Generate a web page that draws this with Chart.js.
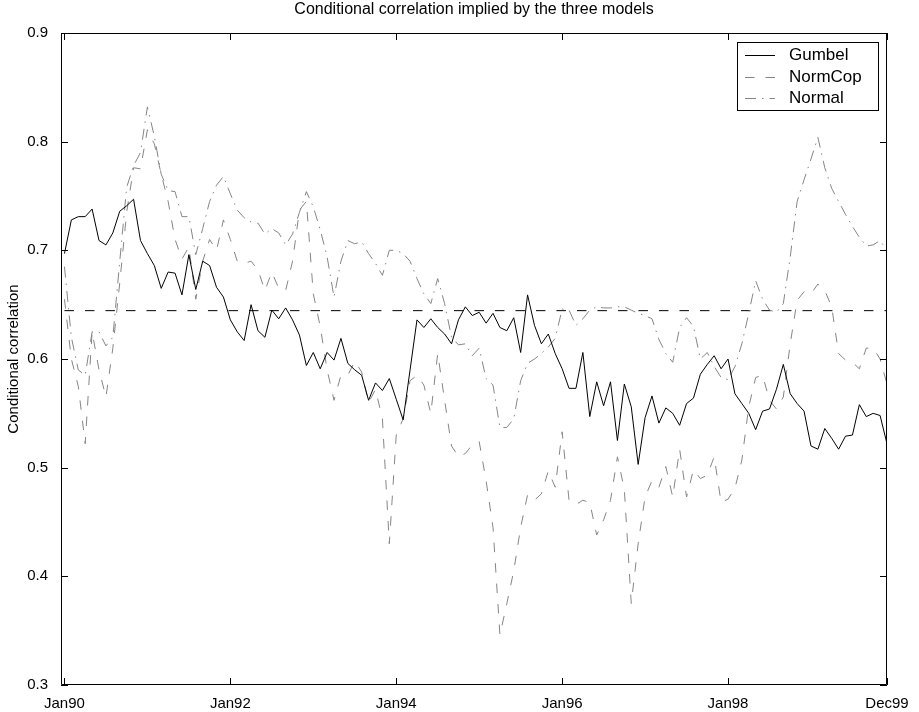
<!DOCTYPE html>
<html>
<head>
<meta charset="utf-8">
<title>Conditional correlation</title>
<script src="https://cdn.jsdelivr.net/npm/chart.js@4.4.1/dist/chart.umd.min.js"></script>
<style>
  html, body { margin: 0; padding: 0; background: #fff; }
  #wrap { width: 919px; height: 712px; }
</style>
</head>
<body>
<div id="wrap"><canvas id="chart" width="919" height="712"></canvas></div>
<script>
/* Monthly conditional correlation, Jan90 .. Dec99 (index 0 = Jan90) */
const GUMBEL = [
  0.697, 0.728, 0.731, 0.731, 0.738, 0.709, 0.705, 0.716, 0.736, 0.741,
  0.747, 0.709, 0.697, 0.686, 0.665, 0.680, 0.679, 0.659, 0.696, 0.664,
  0.690, 0.686, 0.666, 0.657, 0.636, 0.625, 0.617, 0.650, 0.626, 0.620,
  0.645, 0.637, 0.647, 0.636, 0.622, 0.594, 0.606, 0.591, 0.606, 0.599,
  0.619, 0.596, 0.590, 0.585, 0.562, 0.578, 0.571, 0.582, 0.563, 0.544,
  0.590, 0.636, 0.629, 0.637, 0.629, 0.623, 0.614, 0.636, 0.648, 0.640,
  0.643, 0.633, 0.642, 0.629, 0.626, 0.638, 0.606, 0.659, 0.631, 0.614,
  0.623, 0.605, 0.591, 0.573, 0.573, 0.606, 0.547, 0.579, 0.557, 0.579,
  0.525, 0.577, 0.556, 0.503, 0.546, 0.566, 0.541, 0.555, 0.550, 0.539,
  0.559, 0.564, 0.586, 0.595, 0.603, 0.591, 0.600, 0.568, 0.559, 0.550,
  0.535, 0.552, 0.554, 0.572, 0.595, 0.568, 0.559, 0.552, 0.520, 0.517,
  0.536, 0.527, 0.517, 0.529, 0.530, 0.558, 0.547, 0.550, 0.548, 0.522
];
const NORMCOP = [
  0.655, 0.600, 0.575, 0.522, 0.625, 0.590, 0.565, 0.610, 0.670, 0.735,
  0.776, 0.775, 0.811, 0.798, 0.770, 0.745, 0.710, 0.692, 0.703, 0.655,
  0.690, 0.710, 0.700, 0.728, 0.710, 0.690, 0.688, 0.690, 0.682, 0.663,
  0.680, 0.665, 0.663, 0.690, 0.737, 0.745, 0.660, 0.630, 0.590, 0.562,
  0.585, 0.585, 0.598, 0.588, 0.560, 0.572, 0.545, 0.430, 0.530, 0.545,
  0.580, 0.585, 0.576, 0.550, 0.605, 0.562, 0.520, 0.510, 0.513, 0.521,
  0.524, 0.488, 0.445, 0.346, 0.375, 0.405, 0.445, 0.475, 0.470, 0.476,
  0.497, 0.482, 0.533, 0.470, 0.466, 0.470, 0.468, 0.438, 0.452, 0.470,
  0.510, 0.480, 0.375, 0.430, 0.473, 0.488, 0.482, 0.501, 0.473, 0.517,
  0.473, 0.498, 0.490, 0.493, 0.510, 0.468, 0.471, 0.481, 0.507, 0.556,
  0.583, 0.585, 0.562, 0.554, 0.565, 0.614, 0.654, 0.662, 0.660, 0.669,
  0.663, 0.648, 0.605, 0.599, 0.597, 0.591, 0.610, 0.610, 0.600, 0.577
];
const NORMAL = [
  0.685, 0.620, 0.590, 0.585, 0.625, 0.625, 0.612, 0.620, 0.690, 0.758,
  0.778, 0.790, 0.832, 0.805, 0.770, 0.755, 0.754, 0.731, 0.731, 0.696,
  0.720, 0.745, 0.760, 0.768, 0.752, 0.737, 0.730, 0.726, 0.725, 0.715,
  0.720, 0.716, 0.705, 0.715, 0.735, 0.754, 0.740, 0.719, 0.694, 0.657,
  0.690, 0.709, 0.706, 0.708, 0.697, 0.688, 0.677, 0.700, 0.700, 0.697,
  0.690, 0.674, 0.660, 0.651, 0.674, 0.651, 0.620, 0.613, 0.614, 0.603,
  0.610, 0.582, 0.576, 0.537, 0.537, 0.545, 0.580, 0.596, 0.600, 0.605,
  0.611, 0.619, 0.646, 0.645, 0.631, 0.637, 0.645, 0.648, 0.647, 0.647,
  0.648, 0.648, 0.645, 0.642, 0.640, 0.637, 0.618, 0.605, 0.597, 0.629,
  0.638, 0.630, 0.600, 0.606, 0.593, 0.583, 0.581, 0.593, 0.614, 0.642,
  0.672, 0.655, 0.645, 0.643, 0.651, 0.694, 0.745, 0.765, 0.784, 0.804,
  0.776, 0.757, 0.745, 0.733, 0.722, 0.712, 0.704, 0.705, 0.709, 0.700
];
/* unconditional level drawn as a flat reference line */
const MEAN_LEVEL = 0.6445;

const TICK_MONTHS = [0, 24, 48, 72, 96, 119];
const TICK_LABELS = ["Jan90", "Jan92", "Jan94", "Jan96", "Jan98", "Dec99"];
const Y_MIN = 0.3, Y_MAX = 0.9, Y_STEP = 0.1;

const FONT = '"Liberation Sans", Arial, Helvetica, sans-serif';
const GREY = "#858585";
const DASH = [9.5, 11];
const DASH_DOT = [11, 6, 1.5, 6];

const toPoints = arr => arr.map((v, i) => ({ x: i, y: v }));

/* box, inward ticks on all four sides, title and legend */
const framePlugin = {
  id: "frame",
  afterDatasetsDraw(chart) {
    const { ctx, chartArea: a, scales } = chart;
    const len = 7;
    ctx.save();
    ctx.strokeStyle = "#000";
    ctx.lineWidth = 1;
    ctx.beginPath();
    ctx.rect(a.left + 0.5, a.top + 0.5, a.right - a.left - 1, a.bottom - a.top - 1);
    scales.x.ticks.forEach(t => {
      const px = Math.round(scales.x.getPixelForValue(t.value)) + 0.5;
      ctx.moveTo(px, a.bottom); ctx.lineTo(px, a.bottom - len);
      ctx.moveTo(px, a.top); ctx.lineTo(px, a.top + len);
    });
    scales.y.ticks.forEach(t => {
      const py = Math.round(scales.y.getPixelForValue(t.value)) + 0.5;
      ctx.moveTo(a.left, py); ctx.lineTo(a.left + len, py);
      ctx.moveTo(a.right, py); ctx.lineTo(a.right - len, py);
    });
    ctx.stroke();

    // title
    ctx.fillStyle = "#000";
    ctx.font = "16px " + FONT;
    ctx.textAlign = "center";
    ctx.textBaseline = "middle";
    ctx.fillText("Conditional correlation implied by the three models", (a.left + a.right) / 2, 10);

    // legend box, upper right inside the axes
    const items = chart.data.datasets.filter(d => d.label);
    const bx = 737, by = 42, bw = 141, bh = 68, row = 21.5;
    ctx.fillStyle = "#fff";
    ctx.fillRect(bx, by, bw, bh);
    ctx.strokeStyle = "#000";
    ctx.strokeRect(bx + 0.5, by + 0.5, bw, bh);
    ctx.textAlign = "left";
    ctx.font = "17px " + FONT;
    items.forEach((d, i) => {
      const y = Math.round(by + 13 + i * row) + 0.5;
      ctx.strokeStyle = d.borderColor;
      ctx.lineWidth = d.borderWidth;
      ctx.setLineDash(d.borderDash || []);
      ctx.beginPath();
      ctx.moveTo(bx + 8, y); ctx.lineTo(bx + 38, y);
      ctx.stroke();
      ctx.setLineDash([]);
      ctx.fillStyle = "#000";
      ctx.fillText(d.label, bx + 52, y);
    });
    ctx.restore();
  }
};

new Chart(document.getElementById("chart"), {
  type: "line",
  data: {
    datasets: [
      { label: "Gumbel", data: toPoints(GUMBEL), borderColor: "#000", borderWidth: 1 },
      { label: "NormCop", data: toPoints(NORMCOP), borderColor: GREY, borderWidth: 1, borderDash: DASH },
      { label: "Normal", data: toPoints(NORMAL), borderColor: GREY, borderWidth: 1, borderDash: DASH_DOT },
      { label: "", data: [{ x: 0, y: MEAN_LEVEL }, { x: 119, y: MEAN_LEVEL }],
        borderColor: "#000", borderWidth: 1, borderDash: DASH }
    ]
  },
  options: {
    responsive: false,
    animation: false,
    devicePixelRatio: 1,
    layout: { padding: { left: 0, right: 32, top: 33, bottom: 0 } },
    elements: { point: { radius: 0 }, line: { tension: 0, fill: false } },
    plugins: { legend: { display: false }, title: { display: false }, tooltip: { enabled: false } },
    scales: {
      x: {
        type: "linear", min: -0.5, max: 119,
        afterBuildTicks: s => { s.ticks = TICK_MONTHS.map(v => ({ value: v })); },
        afterFit: s => { s.height = 27; },
        ticks: {
          callback: (v, i) => TICK_LABELS[i],
          color: "#000", font: { family: FONT, size: 15 }, padding: 10,
          maxRotation: 0, autoSkip: false
        },
        grid: { display: false, drawTicks: false },
        border: { display: false }
      },
      y: {
        min: Y_MIN, max: Y_MAX,
        afterFit: s => { s.width = 61; },
        ticks: {
          stepSize: Y_STEP, callback: v => v.toFixed(1),
          color: "#000", font: { family: FONT, size: 15 }, padding: 13
        },
        title: { display: true, text: "Conditional correlation", color: "#000",
                 font: { family: FONT, size: 15 }, padding: { top: 5, bottom: 0 } },
        grid: { display: false, drawTicks: false },
        border: { display: false }
      }
    }
  },
  plugins: [framePlugin]
});
</script>
</body>
</html>
